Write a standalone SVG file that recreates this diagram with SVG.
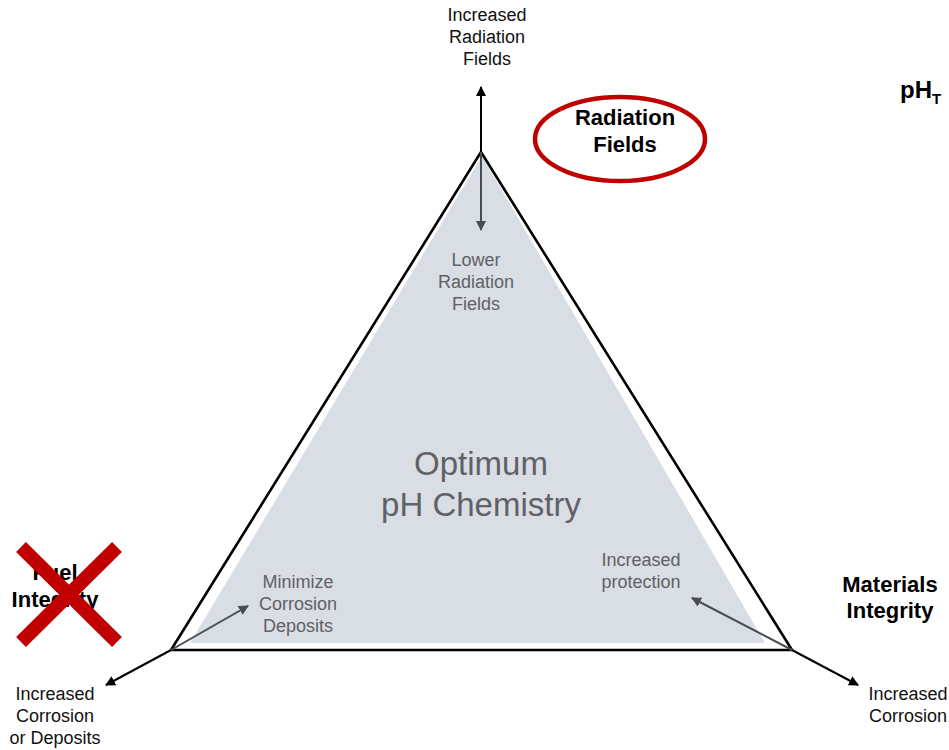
<svg xmlns="http://www.w3.org/2000/svg" width="949" height="750" viewBox="0 0 949 750">
  <defs>
    <marker id="ahBlack" viewBox="0 0 10 10" refX="9" refY="5" markerWidth="10" markerHeight="10" markerUnits="userSpaceOnUse" orient="auto">
      <path d="M0,0 L10,5 L0,10 z" fill="#000"/>
    </marker>
    <marker id="ahGray" viewBox="0 0 10 10" refX="9" refY="5" markerWidth="10" markerHeight="10" markerUnits="userSpaceOnUse" orient="auto">
      <path d="M0,0 L10,5 L0,10 z" fill="#474c55"/>
    </marker>
    <style>
      text { font-family: "Liberation Sans", Arial, sans-serif; text-anchor: middle; }
      .lbl { font-size: 18px; fill: #111; }
      .inner { font-size: 18px; fill: #5f6166; }
      .head { font-size: 22px; font-weight: bold; fill: #000; }
      .big { font-size: 33px; fill: #5f6166; }
      .edge { stroke: #000; stroke-width: 2.6; fill: none; }
      .out { stroke: #000; stroke-width: 2; fill: none; marker-end: url(#ahBlack); }
      .in { stroke: #474c55; stroke-width: 2; fill: none; marker-end: url(#ahGray); }
    </style>
  </defs>

  <!-- shaded zone inside the triangle -->
  <g id="zone">
    <polygon points="482,156 190,643 765,643" fill="#d9dde4"/>
  </g>

  <!-- triangle frame -->
  <g id="triangle">
    <polygon class="edge" points="481,152 171,650 792,650" stroke-linejoin="miter"/>
  </g>

  <!-- arrows from each vertex -->
  <g id="connectors">
    <line class="out" x1="481" y1="152" x2="481" y2="87"/>
    <line class="in" x1="481" y1="152" x2="481" y2="230"/>
    <line class="out" x1="171" y1="650" x2="106" y2="685"/>
    <line class="in" x1="171" y1="650" x2="248" y2="606"/>
    <line class="out" x1="792" y1="650" x2="858" y2="685"/>
    <line class="in" x1="792" y1="650" x2="692" y2="598"/>
  </g>

  <g id="top-outer">
    <text class="lbl" x="487" y="21">Increased</text>
    <text class="lbl" x="487" y="43">Radiation</text>
    <text class="lbl" x="487" y="65">Fields</text>
  </g>

  <g id="radiation-fields">
    <ellipse cx="620" cy="139" rx="85" ry="42" fill="none" stroke="#c00000" stroke-width="4.5"/>
    <text class="head" x="625" y="125">Radiation</text>
    <text class="head" x="625" y="152">Fields</text>
  </g>

  <g id="ph-t">
    <text x="900" y="98" style="font-size:24px;font-weight:bold;text-anchor:start">pH<tspan dy="6" style="font-size:15px">T</tspan></text>
  </g>

  <g id="top-inner">
    <text class="inner" x="476" y="266">Lower</text>
    <text class="inner" x="476" y="288">Radiation</text>
    <text class="inner" x="476" y="310">Fields</text>
  </g>

  <g id="center">
    <text class="big" x="481" y="475">Optimum</text>
    <text class="big" x="481" y="516">pH Chemistry</text>
  </g>

  <g id="left-inner">
    <text class="inner" x="298" y="588">Minimize</text>
    <text class="inner" x="298" y="610">Corrosion</text>
    <text class="inner" x="298" y="632">Deposits</text>
  </g>

  <g id="right-inner">
    <text class="inner" x="641" y="566">Increased</text>
    <text class="inner" x="641" y="588">protection</text>
  </g>

  <g id="materials-integrity">
    <text class="head" x="890" y="592">Materials</text>
    <text class="head" x="890" y="618">Integrity</text>
  </g>

  <g id="right-outer">
    <text class="lbl" x="908" y="700">Increased</text>
    <text class="lbl" x="908" y="722">Corrosion</text>
  </g>

  <g id="left-outer">
    <text class="lbl" x="55" y="700">Increased</text>
    <text class="lbl" x="55" y="722">Corrosion</text>
    <text class="lbl" x="55" y="744">or Deposits</text>
  </g>

  <g id="fuel-integrity">
    <text class="head" x="55" y="580">Fuel</text>
    <text class="head" x="55" y="607">Integrity</text>
    <path d="M21,547 L117,642 M117,547 L21,642" stroke="#c00000" stroke-width="14" fill="none"/>
  </g>
</svg>
